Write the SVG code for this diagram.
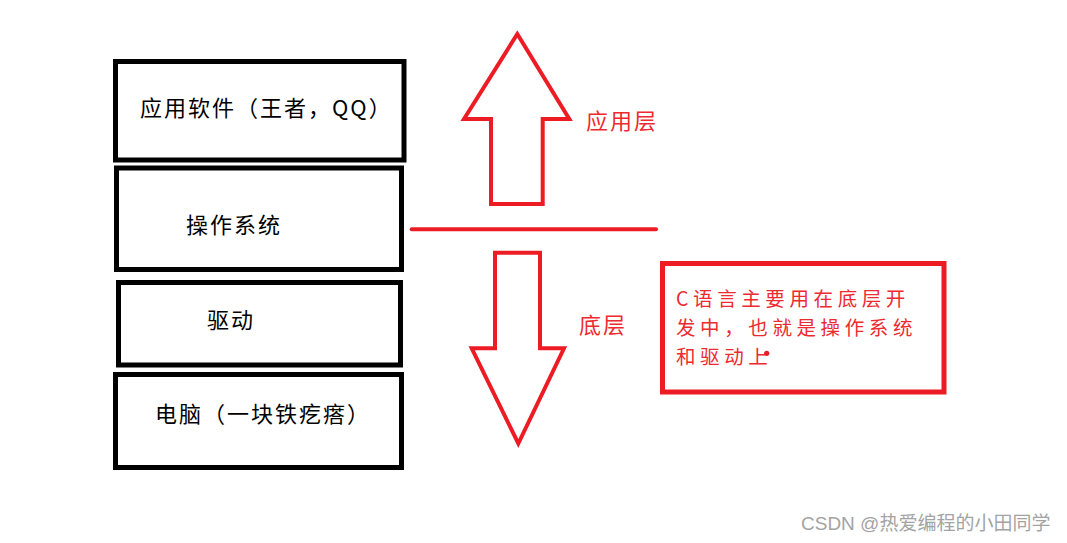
<svg xmlns="http://www.w3.org/2000/svg" width="1067" height="543" viewBox="0 0 1067 543">
<style>
.box{fill:#fff;stroke:#000;stroke-width:5}
.rbox{fill:#fff;stroke:#ed1c24;stroke-width:5}
.arrow{fill:#fff;stroke:#ed1c24;stroke-width:4;stroke-linejoin:miter}
.t{font-family:"Noto Sans CJK SC","Liberation Sans",sans-serif;font-size:22px;letter-spacing:2px;fill:#000}
.r{fill:#ed2a30}
.n{font-family:"Noto Sans CJK SC","Liberation Sans",sans-serif;font-size:19.5px;letter-spacing:4.6px;fill:#ed2a30}
.wm{font-family:"Liberation Sans","Noto Sans CJK SC",sans-serif;font-size:19px;fill:#a3a3a3}
</style>
<rect width="1067" height="543" fill="#fff"/>
<g id="app">
<rect class="box" x="115.5" y="61.5" width="288.5" height="98.5"/>
<text class="t" x="140" y="116">应用软件（王者，QQ）</text>
</g>
<g id="os">
<rect class="box" x="116.5" y="168" width="285" height="101.5"/>
<text class="t" x="186" y="233">操作系统</text>
</g>
<g id="driver">
<rect class="box" x="118.5" y="282.5" width="282" height="82.5"/>
<text class="t" x="207" y="328">驱动</text>
</g>
<g id="pc">
<rect class="box" x="115.5" y="374.5" width="286" height="93"/>
<text class="t" x="155" y="422">电脑（一块铁疙瘩）</text>
</g>
<g id="connectors">
<polygon class="arrow" points="517.3,34 464,119 491,119 491,204 542.7,204 542.7,119 569.3,119"/>
<line x1="411.7" y1="229.3" x2="656" y2="229.3" stroke="#ed1c24" stroke-width="4" stroke-linecap="round"/>
<polygon class="arrow" points="495,252.7 540,252.7 540,348.3 564,348.3 518.3,443.5 471.7,348.3 495,348.3"/>
</g>
<g id="label-app">
<text class="t r" x="586" y="129">应用层</text>
</g>
<g id="label-low">
<text class="t r" x="579" y="333">底层</text>
</g>
<g id="note">
<rect class="rbox" x="662.5" y="263.5" width="281.5" height="128.5"/>
<text class="n" x="676" y="306">C语言主要用在底层开</text>
<text class="n" x="676" y="335">发中，也就是操作系统</text>
<text class="n" x="676" y="364">和驱动上</text>
<circle cx="766.7" cy="353.3" r="2.6" fill="#ed1c24"/>
</g>
<text class="wm" x="801" y="530">CSDN @热爱编程的小田同学</text>
</svg>
